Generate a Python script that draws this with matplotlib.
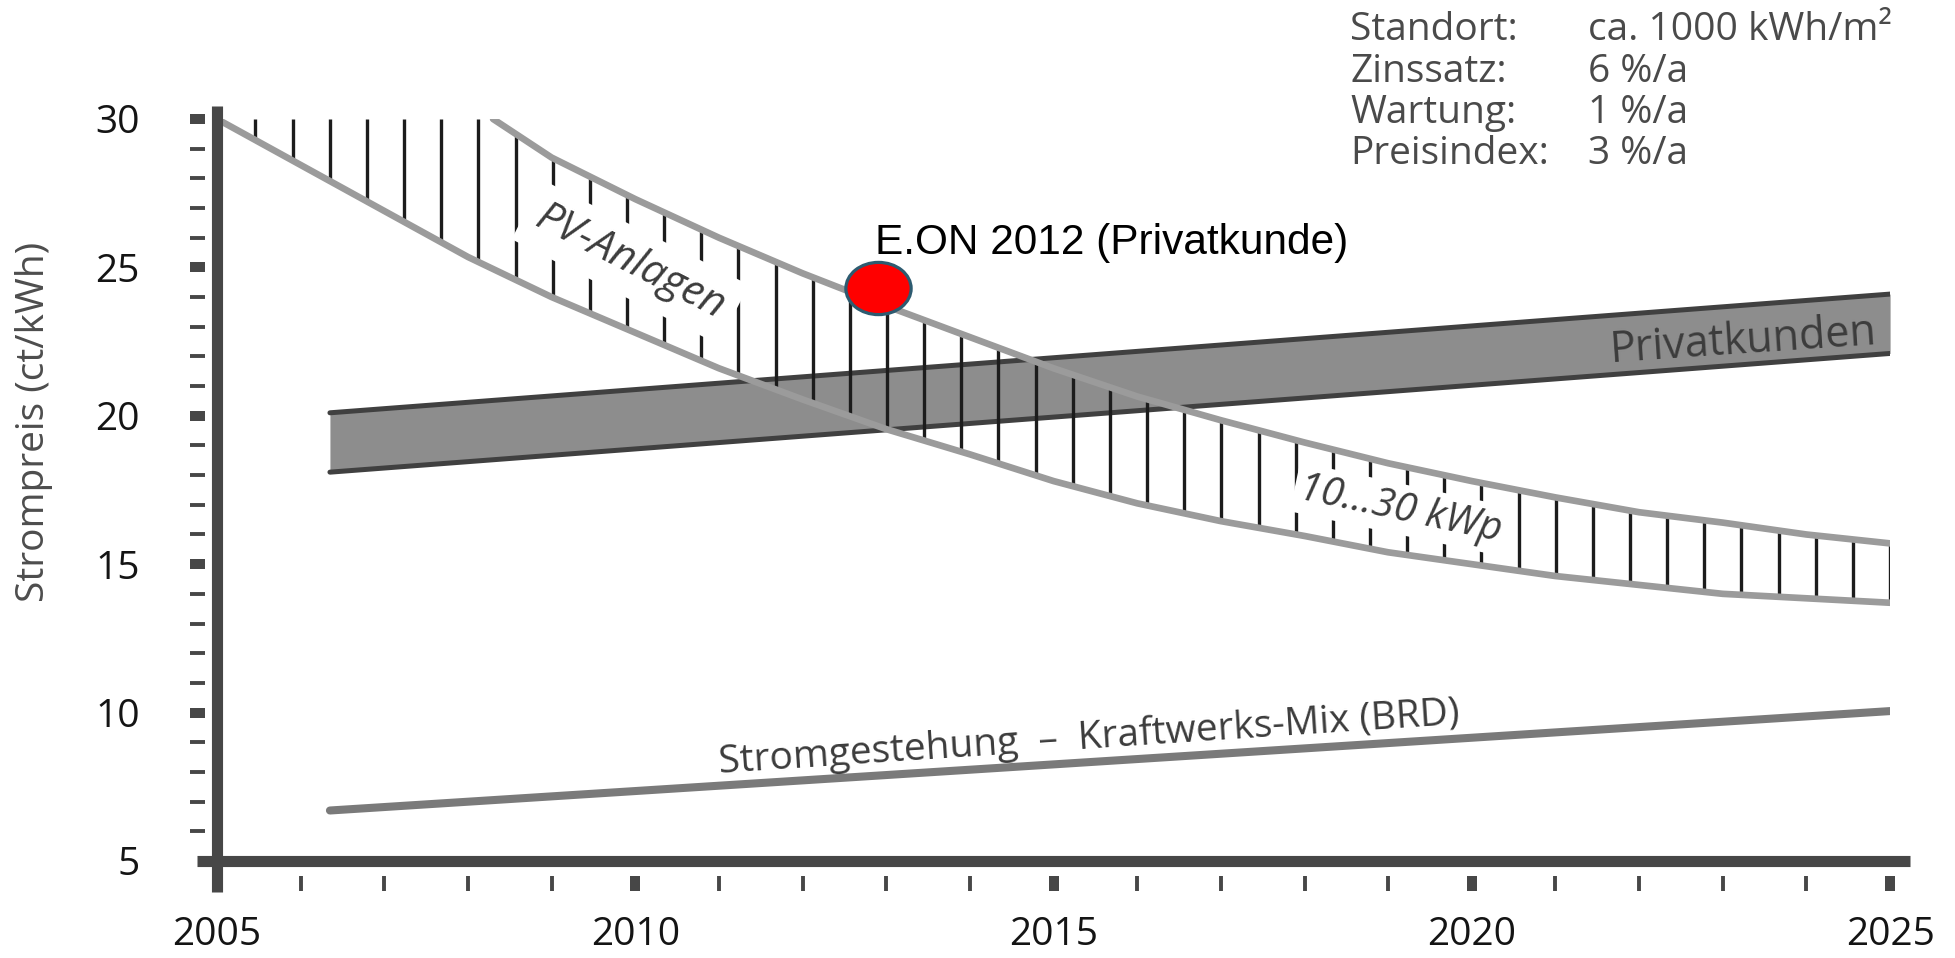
import matplotlib.pyplot as plt
import numpy as np
from matplotlib.path import Path
from matplotlib.transforms import Affine2D
from matplotlib.ticker import MultipleLocator, FixedLocator

plt.rcParams['font.family'] = ['Open Sans', 'DejaVu Sans']

# PV-Anlagen 10...30 kWp, lower and upper bound (ct/kWh)
pv_low_years = list(range(2005, 2026))
pv_low = [30.0, 28.45, 26.9, 25.35, 24.0, 22.8, 21.6, 20.55, 19.55, 18.7, 17.8,
          17.05, 16.45, 15.95, 15.4, 15.0, 14.6, 14.3, 14.0, 13.85, 13.7]
pv_up_years = [2008.3] + list(range(2009, 2026))
pv_up = [30.0, 28.7, 27.3, 26.0, 24.8, 23.7, 22.65, 21.6, 20.65, 19.85, 19.1,
         18.4, 17.8, 17.25, 16.75, 16.4, 16.0, 15.7]

# Strompreis Privatkunden (band)
band_years = [2006.35, 2025]
band_low = [18.1, 22.1]
band_high = [20.1, 24.1]

# Stromgestehung Kraftwerks-Mix (BRD)
mix_years = [2006.35, 2025]
mix = [6.7, 10.05]

# E.ON 2012 point
eon_year = 2012.9
eon_price = 24.3

x_ticks = [2005, 2010, 2015, 2020, 2025]
y_ticks = [5, 10, 15, 20, 25, 30]

param_names = ['Standort:', 'Zinssatz:', 'Wartung:', 'Preisindex:']
param_values = ['ca. 1000 kWh/m²', '6 %/a', '1 %/a', '3 %/a']

axis_c = '#474747'
text_c = '#3c3c3c'

fig = plt.figure(figsize=(19.55, 9.58), dpi=100)
ax = fig.add_axes([0.111, 0.1013, 0.8558, 0.7745])
ax.set_xlim(2005, 2025)
ax.set_ylim(5, 30)

# ticks sit a little away from the thick axis lines
for s in ax.spines.values():
    s.set_visible(False)
ax.spines['left'].set_position(('outward', 8.6))
ax.spines['bottom'].set_position(('outward', 10.5))
ax.xaxis.set_major_locator(FixedLocator(x_ticks))
ax.xaxis.set_minor_locator(MultipleLocator(1))
ax.yaxis.set_major_locator(FixedLocator(y_ticks))
ax.yaxis.set_minor_locator(MultipleLocator(1))
ax.tick_params(which='major', direction='out', length=11, width=7.2, color=axis_c,
               labelsize=28, labelcolor='#141414')
ax.tick_params(which='minor', direction='out', length=11, width=2.8, color=axis_c)
ax.tick_params(axis='y', which='major', pad=36)
ax.tick_params(axis='x', which='major', pad=18)
ax.yaxis.get_major_ticks()[0].tick1line.set_visible(False)
ax.xaxis.get_major_ticks()[0].tick1line.set_visible(False)

# axis lines
ax.plot([2005, 2005], [3.95, 30.45], color=axis_c, lw=8, solid_capstyle='butt',
        clip_on=False, zorder=6)
ax.plot([2004.76, 2025.24], [5, 5], color=axis_c, lw=8, solid_capstyle='butt',
        clip_on=False, zorder=6)

# Privatkunden band
ax.fill_between(band_years, band_low, band_high, color='#8d8d8d', lw=0, zorder=1)
ax.plot(band_years, band_high, color='#404040', lw=3.6, zorder=2, solid_capstyle='round')
ax.plot(band_years, band_low, color='#404040', lw=3.6, zorder=2, solid_capstyle='round')

# Kraftwerks-Mix
ax.plot(mix_years, mix, color='#7a7a7a', lw=5.8, zorder=2, solid_capstyle='round')

# vertical hatching between the PV bounds
hatch_x = np.linspace(2005.46, 2025.0, 45)
lo = np.interp(hatch_x, pv_low_years, pv_low)
hi = np.interp(hatch_x, pv_up_years, pv_up, left=30)
ax.vlines(hatch_x, lo, hi, colors='#1c1c1c', lw=2.4, zorder=3)

ax.plot(pv_low_years, pv_low, color='#9b9b9b', lw=4.8, zorder=4, solid_capstyle='round')
ax.plot(pv_up_years, pv_up, color='#9b9b9b', lw=4.8, zorder=4, solid_capstyle='round')

box = dict(boxstyle='square,pad=0.3', fc='white', ec='none')
ax.text(2009.94, 25.18, 'PV-Anlagen', rotation=-27, style='italic', fontsize=30,
        color=text_c, ha='center', va='center', rotation_mode='anchor', bbox=box, zorder=3.5)
ax.text(2019.15, 16.85, '10...30 kWp', rotation=-12, style='italic', fontsize=29,
        color=text_c, ha='center', va='center', rotation_mode='anchor',
        bbox=dict(boxstyle='square,pad=0.12', fc='white', ec='none'), zorder=3.5)
ax.text(2023.25, 22.5, 'Privatkunden', rotation=3.9, fontsize=31,
        color=text_c, ha='center', va='center', rotation_mode='anchor', zorder=5)
ax.text(2015.43, 9.15, 'Stromgestehung  –  Kraftwerks-Mix (BRD)', rotation=3.8, fontsize=28,
        color=text_c, ha='center', va='center', rotation_mode='anchor', zorder=5)

# E.ON marker (ellipse)
ell = Path.unit_circle().transformed(Affine2D().scale(1, 0.8))
ax.plot([eon_year], [eon_price], marker=ell, ms=47, mfc='#ff0000', mec='#2d5b70',
        mew=2.3, ls='none', zorder=7, clip_on=False)
ax.text(2012.87, 25.45, 'E.ON 2012 (Privatkunde)', family=['Liberation Sans', 'DejaVu Sans'],
        fontsize=30.5, color='black', ha='left', va='baseline', zorder=7)

fig.text(34 / 1955, 1 - 422 / 958, 'Strompreis (ct/kWh)', rotation=90, ha='center',
         va='center', fontsize=28, color='#4d4d4d')

row_y = [30, 72, 113, 154]
for name, val, y in zip(param_names, param_values, row_y):
    fig.text(1350 / 1955, 1 - y / 958, name, fontsize=28, color='#4a4a4a', va='center')
    fig.text(1588 / 1955, 1 - y / 958, val, fontsize=28, color='#4a4a4a', va='center')

fig.savefig('out.png', dpi=100)
